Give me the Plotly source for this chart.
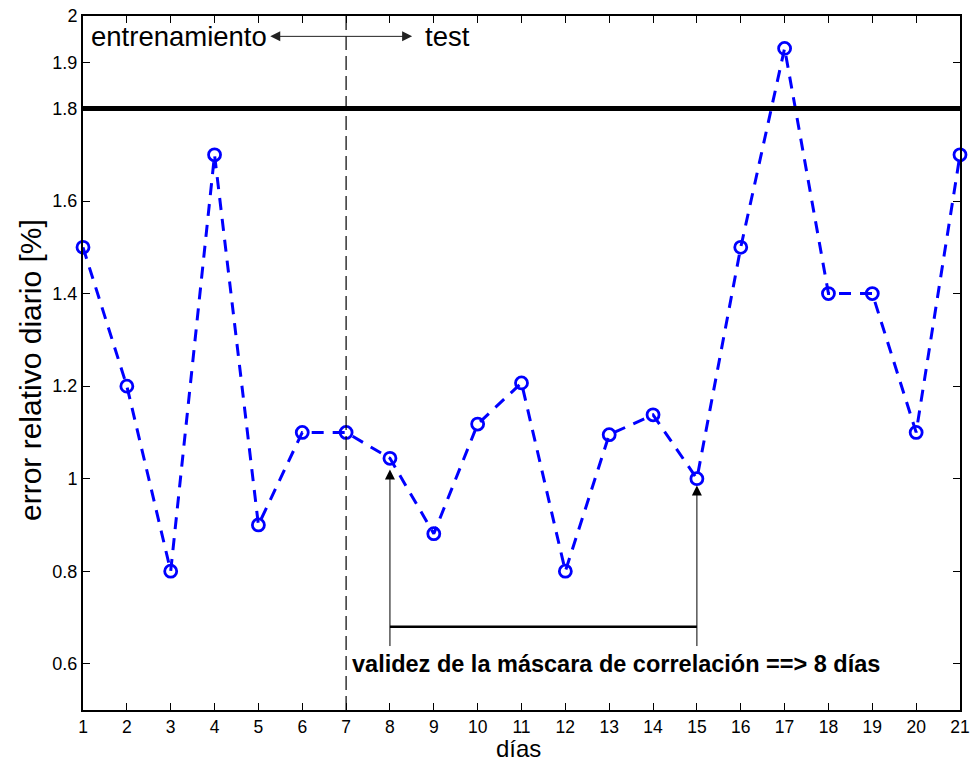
import plotly.graph_objects as go

# daily relative error per day
dias = list(range(1, 22))
error_rel = [1.50, 1.20, 0.80, 1.70, 0.90, 1.10, 1.10, 1.044, 0.881, 1.118, 1.207,
             0.80, 1.095, 1.138, 1.00, 1.50, 1.93, 1.40, 1.40, 1.10, 1.70]

umbral = 1.8
dia_corte = 7
inicio_valido, fin_valido = 8, 15

x_ticks = list(range(1, 22))
y_ticks = [0.6, 0.8, 1.0, 1.2, 1.4, 1.6, 1.8, 1.9, 2.0]
y_labels = ["0.6", "0.8", "1", "1.2", "1.4", "1.6", "1.8", "1.9", "2"]

FONT = "Liberation Sans, Arial, sans-serif"
ML, MR, MT, MB = 83, 10, 16, 53
W, H = 970, 763
PW, PH = W - ML - MR, H - MT - MB

fig = go.Figure()

fig.add_trace(go.Scatter(
    x=dias, y=error_rel, mode="lines+markers", cliponaxis=False,
    line=dict(color="#0000ff", width=3, dash="12px,9px"),
    marker=dict(symbol="circle-open", size=12, color="#0000ff", line=dict(width=2.8, color="#0000ff")),
    showlegend=False,
))

shapes = [
    # threshold
    dict(type="line", xref="paper", x0=0, x1=1, yref="y", y0=umbral, y1=umbral,
         line=dict(color="black", width=5)),
    # train/test split
    dict(type="line", xref="x", x0=dia_corte, x1=dia_corte, yref="paper", y0=0, y1=1,
         line=dict(color="black", width=1.2, dash="14px,6px")),
    # validity bracket
    dict(type="line", xref="x", x0=inicio_valido, x1=fin_valido, yref="y", y0=0.68, y1=0.68,
         line=dict(color="black", width=2.5)),
]

annotations = [
    dict(x=5.27, y=1.956, ax=8.54, ay=1.956, xref="x", yref="y", axref="x", ayref="y",
         text="", showarrow=True, arrowhead=2, arrowside="end+start", arrowsize=2,
         arrowwidth=1, arrowcolor="#222222"),
    dict(x=5.25, y=1.956, xref="x", yref="y", text="entrenamiento", showarrow=False,
         xanchor="right", yanchor="middle", font=dict(family=FONT, size=27.5, color="black")),
    dict(x=8.75, y=1.956, xref="x", yref="y", text="test", showarrow=False,
         xanchor="left", yanchor="middle", font=dict(family=FONT, size=27.5, color="black")),
    dict(x=inicio_valido, y=1.02, ax=inicio_valido, ay=0.635, xref="x", yref="y", axref="x", ayref="y",
         text="", showarrow=True, arrowhead=2, arrowsize=2, arrowwidth=1, arrowcolor="black"),
    dict(x=fin_valido, y=0.985, ax=fin_valido, ay=0.635, xref="x", yref="y", axref="x", ayref="y",
         text="", showarrow=True, arrowhead=2, arrowsize=2, arrowwidth=1, arrowcolor="black"),
    dict(x=7.1, y=0.60, xref="x", yref="y", text="<b>validez de la máscara de correlación ==> 8 días</b>",
         showarrow=False, xanchor="left", yanchor="middle",
         font=dict(family=FONT, size=23.5, color="black")),
    # y-axis title, centred at page x=30, y=370
    dict(x=(30 - ML) / PW, xref="paper", xanchor="center",
         y=(H - MB - 370) / PH, yref="paper", yanchor="middle",
         text="error relativo diario [%]", textangle=-90, showarrow=False,
         font=dict(family=FONT, size=30, color="black")),
    # x-axis title, sitting on the bottom edge of the page
    dict(x=(518 - ML) / PW, xref="paper", xanchor="center",
         y=(H - MB - H) / PH, yref="paper", yanchor="bottom",
         text="días", showarrow=False, borderpad=0,
         font=dict(family=FONT, size=24, color="black")),
]

fig.update_layout(
    width=W, height=H,
    margin=dict(l=ML, r=MR, t=MT, b=MB, autoexpand=False),
    paper_bgcolor="white", plot_bgcolor="white",
    font=dict(family=FONT, color="black", size=18),
    shapes=shapes, annotations=annotations,
    xaxis=dict(range=[1, 21], tickvals=x_ticks, ticks="inside", ticklen=7, tickwidth=1,
               tickcolor="black", showline=True, linecolor="black", linewidth=2, mirror="allticks",
               showgrid=False, zeroline=False, tickfont=dict(size=17.5), automargin=False,
               ticklabeloverflow="allow"),
    yaxis=dict(range=[0.5, 2.0], tickvals=y_ticks, ticktext=y_labels, ticks="inside", ticklen=7,
               tickwidth=1, tickcolor="black", showline=True, linecolor="black", linewidth=2,
               mirror="allticks", showgrid=False, zeroline=False, tickfont=dict(size=18),
               automargin=False, ticklabeloverflow="allow"),
)

fig.write_html("out.html")
